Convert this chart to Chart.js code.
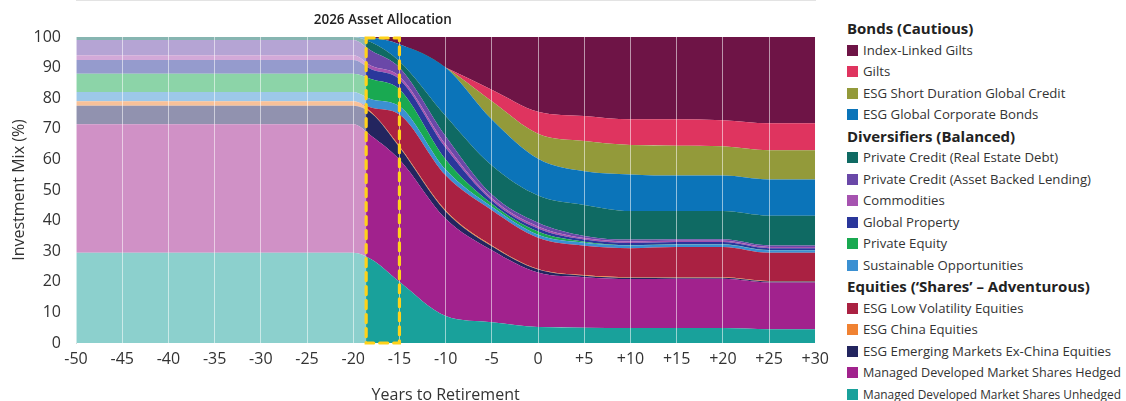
<!DOCTYPE html>
<html lang="en">
<head>
<meta charset="UTF-8">
<title>Investment Mix by Years to Retirement</title>
<script src="https://cdn.jsdelivr.net/npm/chart.js@4.4.1/dist/chart.umd.min.js"></script>
<style>
    body { margin: 0; background: #fff; font-family: "Open Sans", sans-serif; }
    #wrap { position: absolute; left: 0; top: 0; width: 836px; height: 401px; }
    #legend { position: absolute; left: 847px; top: 18px; color: #222; }
    .hd { font-weight: 700; font-size: 15px; height: 21.5px; line-height: 21.5px; white-space: nowrap; }
    .it { font-size: 13.2px; height: 21.5px; line-height: 21.5px; color: #333; white-space: nowrap; }
    .it span.tx { display: inline-block; transform-origin: left center; }
    .sw { display: inline-block; width: 11px; height: 11px; margin-right: 5px; vertical-align: -1px; }
</style>
</head>
<body>
<div id="wrap"><canvas id="mix"></canvas></div>
<div id="legend"></div>

<script>
    // years to retirement
    var years       = [-50, -20, -18, -15, -10, -5, 0, 5, 10, 15, 20, 25, 30];

    // % of the mix, stacked bottom to top
    var dmUnhedged  = [29.5, 29.5, 27.3, 20, 8.8, 6.8, 5.2, 5, 4.9, 4.9, 4.9, 4.5, 4.5];
    var dmHedged    = [42, 42, 40.3, 40, 31.8, 23.5, 17.8, 16.5, 16, 16.1, 16.1, 15.3, 15.3];
    var emExChina   = [6, 6, 7.4, 4, 2.4, 1.3, 1, 0.5, 0.4, 0.3, 0.3, 0.3, 0.3];
    var china       = [1.5, 1.5, 0.3, 0.3, 0.3, 0.3, 0.2, 0.2, 0.2, 0.2, 0.2, 0.2, 0.2];
    var lowVol      = [0, 0, 1.6, 10.4, 11.5, 11.5, 10.2, 9.6, 9.5, 9.9, 9.9, 9.2, 9.2];
    var sustainable = [3, 3, 2.7, 2.7, 1.9, 1.1, 1, 1, 0.9, 0.8, 0.8, 0.8, 0.8];
    var privEquity  = [6, 6, 6.6, 5.5, 3.3, 1, 1, 0.3, 0.1, 0.1, 0.1, 0.1, 0.1];
    var globalProp  = [4.5, 4.5, 3.2, 3.3, 3.8, 1.1, 1, 0.7, 0.7, 0.7, 0.7, 0.6, 0.6];
    var commodities = [1.5, 1.5, 1.1, 1, 1.1, 0.7, 0.7, 0.5, 0.5, 0.4, 0.4, 0.4, 0.4];
    var assetBacked = [5, 5, 4.9, 2.8, 2.7, 1.2, 1.2, 0.7, 0.6, 0.5, 0.5, 0.5, 0.5];
    var realEstate  = [1, 1, 2.8, 2.1, 6.6, 9.5, 8.9, 10.1, 9.3, 9.2, 9.2, 9.7, 9.7];
    var corpBonds   = [0, 0, 1.6, 5.5, 15.8, 15, 12, 11, 12, 11.6, 11.6, 11.8, 11.8];
    var shortCredit = [0, 0, 0, 0, 0, 6, 8.2, 9.9, 9.6, 9.8, 9.6, 9.6, 9.6];
    var gilts       = [0, 0, 0, 0, 0, 3.8, 7.2, 8.2, 8.4, 8.6, 8.5, 8.8, 8.8];
    var indexLinked = [0, 0, 0.2, 2.4, 10, 17.2, 24.4, 25.8, 26.9, 26.9, 27.2, 28.2, 28.2];

    var seriesNames = [
        "Managed Developed Market Shares Unhedged",
        "Managed Developed Market Shares Hedged",
        "ESG Emerging Markets Ex-China Equities",
        "ESG China Equities",
        "ESG Low Volatility Equities",
        "Sustainable Opportunities",
        "Private Equity",
        "Global Property",
        "Commodities",
        "Private Credit (Asset Backed Lending)",
        "Private Credit (Real Estate Debt)",
        "ESG Global Corporate Bonds",
        "ESG Short Duration Global Credit",
        "Gilts",
        "Index-Linked Gilts"
    ];
    var seriesValues = [dmUnhedged, dmHedged, emExChina, china, lowVol, sustainable, privEquity,
        globalProp, commodities, assetBacked, realEstate, corpBonds, shortCredit, gilts, indexLinked];
    var seriesColors = ["#19a19b", "#a1228d", "#23255f", "#f08232", "#aa2142", "#3b90d2", "#19a951",
        "#2a379b", "#a653b0", "#6a48a8", "#0f6a63", "#0b74b9", "#939a3a", "#df345f", "#6e1446"];

    // legend groups, top down, as indexes into the series above
    var groupTitles = ["Bonds (Cautious)", "Diversifiers (Balanced)", "Equities (\u2018Shares\u2019 \u2013 Adventurous)"];
    var groupItems  = [[14, 13, 12, 11], [10, 9, 8, 7, 6, 5], [4, 3, 2, 1, 0]];

    var boxLabel = "2026 Asset Allocation";
    var boxFrom = -18.6, boxTo = -15;

    var legendHtml = "";
    groupTitles.forEach(function (t, g) {
        legendHtml += '<div class="hd">' + t + '</div>';
        groupItems[g].forEach(function (i) {
            legendHtml += '<div class="it"><span class="sw" style="background:' + seriesColors[i] + '"></span><span class="tx">' + seriesNames[i] + '</span></div>';
        });
    });
    document.getElementById("legend").innerHTML = legendHtml;
    // squeeze the long names so they fit the page, like the original does
    document.querySelectorAll("#legend .tx").forEach(function (el) {
        var w = el.getBoundingClientRect().width;
        if (w > 258) el.style.transform = "scaleX(" + (258 / w) + ")";
    });

    var datasets = seriesValues.map(function (vals, i) {
        return {
            label: seriesNames[i],
            data: years.map(function (x, k) { return {x: x, y: vals[k]}; }),
            backgroundColor: seriesColors[i],
            borderColor: seriesColors[i],
            borderWidth: 0,
            pointRadius: 0,
            fill: i === 0 ? "origin" : "-1",
            cubicInterpolationMode: "monotone"
        };
    });

    var allocationPlugin = {
        id: "allocation",
        afterDatasetsDraw: function (chart) {
            // the years already gone are washed out
            var a = chart.chartArea, ctx = chart.ctx;
            var xe = chart.scales.x.getPixelForValue(boxFrom);
            ctx.save();
            ctx.fillStyle = "rgba(255,255,255,0.5)";
            ctx.fillRect(a.left, a.top, xe - a.left, a.bottom - a.top);
            ctx.restore();
        },
        afterDraw: function (chart) {
            var a = chart.chartArea, ctx = chart.ctx, sx = chart.scales.x;
            var x0 = sx.getPixelForValue(boxFrom), x1 = sx.getPixelForValue(boxTo);
            ctx.save();
            ctx.strokeStyle = "#ffd21a";
            ctx.lineWidth = 3.2;
            ctx.lineCap = "round";
            ctx.setLineDash([8, 6]);
            ctx.strokeRect(x0, a.top + 1, x1 - x0, a.bottom - a.top - 1);
            ctx.setLineDash([]);
            ctx.fillStyle = "#222";
            ctx.font = "600 13.5px 'Open Sans'";
            ctx.textAlign = "center";
            ctx.textBaseline = "middle";
            ctx.fillText(boxLabel, (x0 + x1) / 2, a.top - 17);
            ctx.restore();
        }
    };

    var ctx = document.getElementById("mix").getContext("2d");
    var chart = new Chart(ctx, {
        type: "line",
        data: {datasets: datasets},
        plugins: [allocationPlugin],
        options: {
            responsive: true,
            maintainAspectRatio: false,
            animation: false,
            layout: {padding: {top: 37, right: 20, left: 0, bottom: 0}},
            plugins: {legend: {display: false}, tooltip: {enabled: false}},
            scales: {
                x: {
                    type: "linear",
                    min: -50,
                    max: 30,
                    afterFit: function (s) { s.height = 58; },
                    grid: {z: 1, color: "rgba(255,255,255,0.55)", drawTicks: false},
                    border: {color: "#c8c8c8"},
                    ticks: {
                        stepSize: 5,
                        padding: 7,
                        color: "#333",
                        font: {family: "Open Sans", size: 16},
                        callback: function (v) { return v > 0 ? "+" + v : "" + v; }
                    },
                    title: {
                        display: true,
                        text: "Years to Retirement",
                        color: "#333",
                        font: {family: "Open Sans", size: 16, lineHeight: 0.7},
                        padding: {top: 0, bottom: 0}
                    }
                },
                y: {
                    stacked: true,
                    min: 0,
                    max: 100,
                    afterFit: function (s) { s.width = 76; },
                    grid: {display: false, drawTicks: false},
                    border: {color: "#d8d8d8"},
                    ticks: {
                        stepSize: 10,
                        padding: 15,
                        color: "#333",
                        font: {family: "Open Sans", size: 16}
                    },
                    title: {
                        display: true,
                        text: "Investment Mix (%)",
                        color: "#333",
                        font: {family: "Open Sans", size: 16, lineHeight: 1},
                        padding: {top: 11, bottom: 0}
                    }
                }
            }
        }
    });
</script>
</body>
</html>
